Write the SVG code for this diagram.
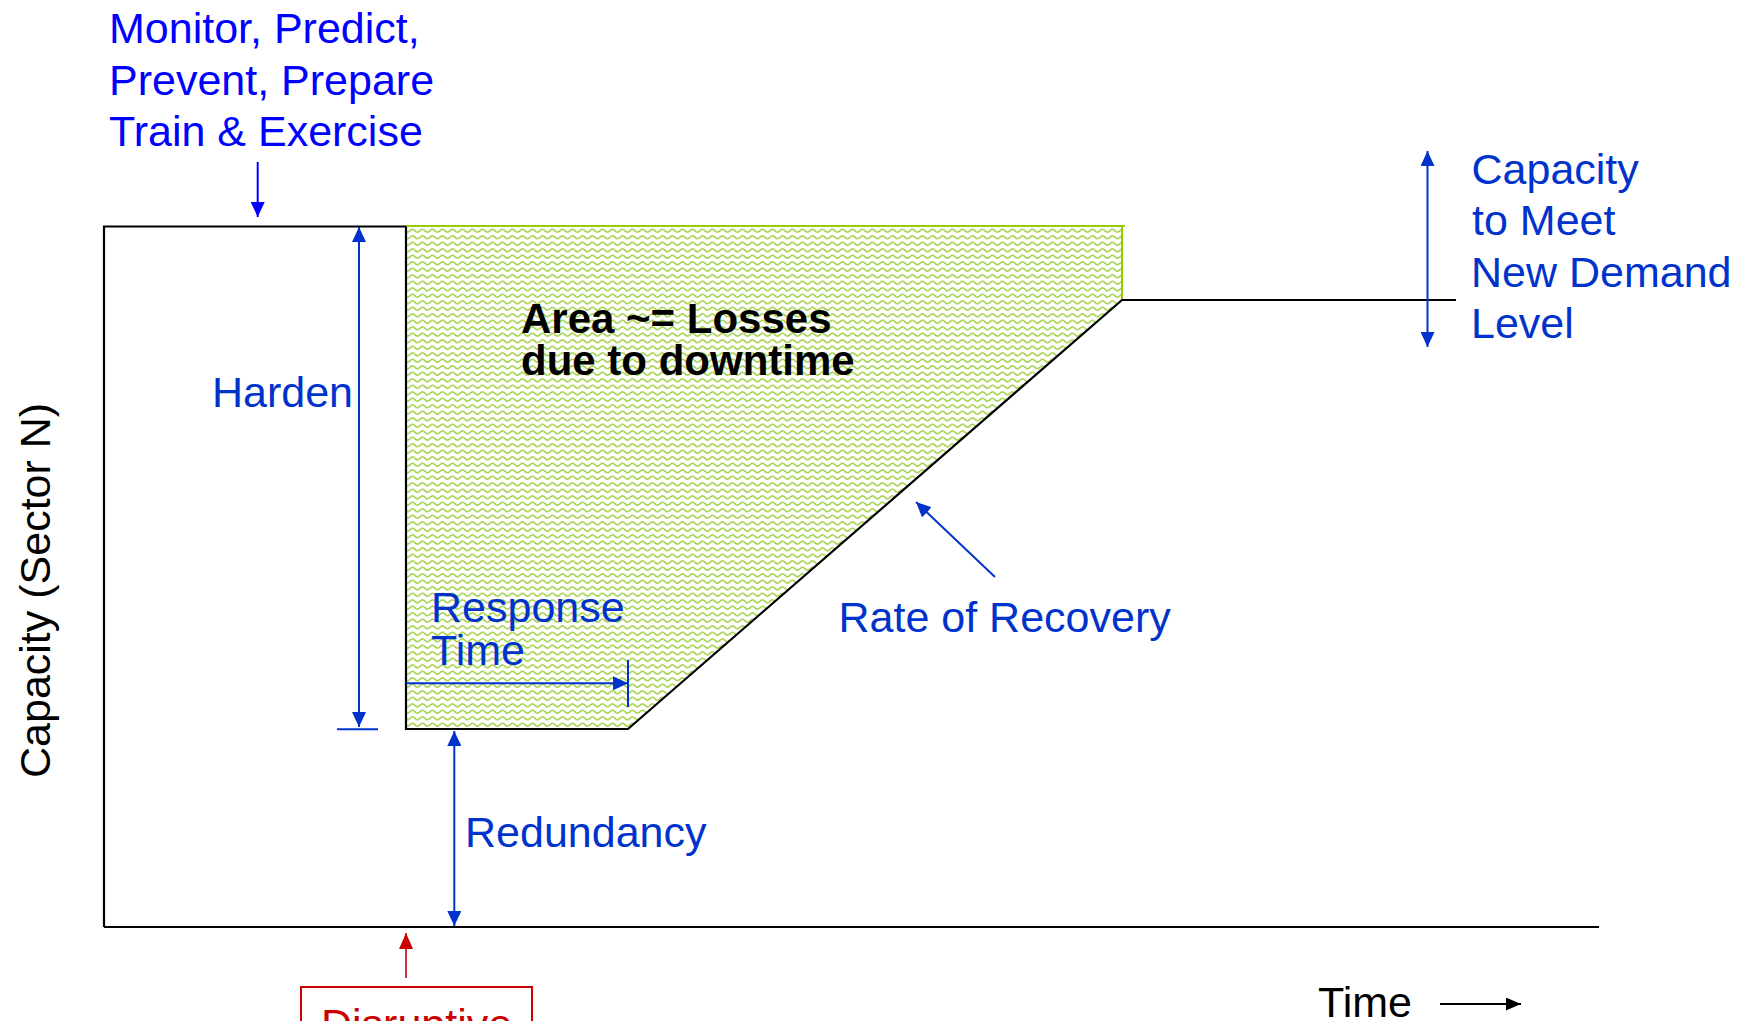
<svg xmlns="http://www.w3.org/2000/svg" width="1750" height="1021" viewBox="0 0 1750 1021">
<style>
.t{font-family:"Liberation Sans",Arial,sans-serif;font-size:43px}
.b{fill:#0033cc}
.pb{fill:#0000ff}
.k{fill:#000000}
.bold{font-weight:bold;font-size:42px}
.ln{fill:none;stroke:#000;stroke-width:2.2}
.bl{fill:none;stroke:#0033cc;stroke-width:2}
</style>
<defs>
<pattern id="wave" patternUnits="userSpaceOnUse" width="10" height="6.5">
<rect width="10" height="6.5" fill="#ffffff"/>
<path d="M-5 3.25 Q-2.5 6.25 0 3.25 Q2.5 0.25 5 3.25 T10 3.25 T15 3.25" fill="none" stroke="#99cc33" stroke-width="1.4"/>
</pattern>
<marker id="ab" viewBox="0 0 15 14" refX="15" refY="7" markerWidth="15" markerHeight="14" markerUnits="userSpaceOnUse" orient="auto-start-reverse"><path d="M0 0 L15 7 L0 14 Z" fill="#0033cc"/></marker>
<marker id="ap" viewBox="0 0 15 14" refX="15" refY="7" markerWidth="15" markerHeight="14" markerUnits="userSpaceOnUse" orient="auto-start-reverse"><path d="M0 0 L15 7 L0 14 Z" fill="#0000ff"/></marker>
<marker id="ar" viewBox="0 0 16 14" refX="16" refY="7" markerWidth="16" markerHeight="14" markerUnits="userSpaceOnUse" orient="auto-start-reverse"><path d="M0 0 L16 7 L0 14 Z" fill="#cc0000"/></marker>
<marker id="ak" viewBox="0 0 15 13" refX="15" refY="6.5" markerWidth="15" markerHeight="13" markerUnits="userSpaceOnUse" orient="auto-start-reverse"><path d="M0 0 L15 6.5 L0 13 Z" fill="#000"/></marker>
</defs>

<g id="loss-area">
<polygon points="406,227 1122,227 1122,300 628,729 406,729" fill="url(#wave)"/>
<line x1="406" y1="226" x2="1125" y2="226" stroke="#99cc00" stroke-width="2"/>
<line x1="1122" y1="226" x2="1122" y2="300" stroke="#99cc00" stroke-width="2"/>
<text class="t k bold" x="521" y="333">Area ~= Losses</text>
<text class="t k bold" x="521" y="375">due to downtime</text>
</g>

<g id="capacity-curve">
<polyline class="ln" points="104,927 104,226.5 406,226.5"/>
<polyline class="ln" points="406,226.5 406,729 628,729 1122,300 1456,300"/>
<line class="ln" x1="104" y1="927" x2="1599" y2="927" stroke-width="2.6"/>
</g>

<g id="y-label">
<text class="t k" transform="translate(50,778) rotate(-90)">Capacity (Sector N)</text>
</g>

<g id="monitor">
<text class="t pb" x="109" y="43">Monitor, Predict,</text>
<text class="t pb" x="109" y="94.5">Prevent, Prepare</text>
<text class="t pb" x="109" y="146">Train &amp; Exercise</text>
</g>

<g id="harden">
<text class="t b" x="212" y="407">Harden</text>
<line x1="337" y1="729.3" x2="378" y2="729.3" stroke="#0033cc" stroke-width="2"/>
</g>

<g id="capacity-demand">
<text class="t b" x="1471.5" y="184">Capacity</text>
<text class="t b" x="1472" y="235">to Meet</text>
<text class="t b" x="1471" y="287">New Demand</text>
<text class="t b" x="1471" y="337.5">Level</text>
</g>

<g id="response">
<text class="t b" x="431" y="622">Response</text>
<text class="t b" x="431" y="665">Time</text>
<line x1="628" y1="660" x2="628" y2="707" stroke="#0033cc" stroke-width="2"/>
</g>

<g id="recovery">
<text class="t b" x="838.5" y="632">Rate of Recovery</text>
</g>

<g id="redundancy">
<text class="t b" x="465" y="847">Redundancy</text>
</g>

<g id="disruptive">
<rect x="301" y="987" width="231" height="120" fill="none" stroke="#cc0000" stroke-width="2"/>
<text class="t" x="321" y="1039" fill="#cc0000">Disruptive</text>
</g>

<g id="time">
<text class="t k" x="1318" y="1017">Time</text>
</g>

<g id="connectors">
<line x1="257.7" y1="162" x2="257.7" y2="217" stroke="#0000ff" stroke-width="2" marker-end="url(#ap)"/>
<line class="bl" x1="359" y1="227" x2="359" y2="727" marker-start="url(#ab)" marker-end="url(#ab)"/>
<line class="bl" x1="1427.5" y1="151" x2="1427.5" y2="347" marker-start="url(#ab)" marker-end="url(#ab)"/>
<line class="bl" x1="406" y1="683.3" x2="628" y2="683.3" marker-end="url(#ab)"/>
<line class="bl" x1="454.3" y1="731" x2="454.3" y2="926" marker-start="url(#ab)" marker-end="url(#ab)"/>
<line class="bl" x1="995" y1="577" x2="916" y2="502" marker-end="url(#ab)"/>
<line x1="406" y1="978" x2="406" y2="933" stroke="#cc0000" stroke-width="1.6" marker-end="url(#ar)"/>
<line x1="1440" y1="1004" x2="1521" y2="1004" stroke="#000" stroke-width="2.2" marker-end="url(#ak)"/>
</g>
</svg>
